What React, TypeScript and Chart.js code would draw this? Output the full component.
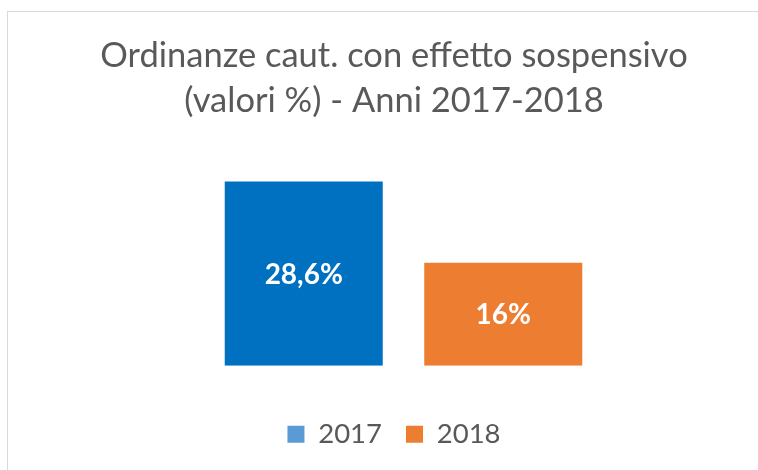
import React, { useEffect, useRef } from "react";
import { Chart, registerables } from "chart.js";

Chart.register(...registerables);

const categories = [""];
const seriesLabels = ["2017", "2018"];
const series2017 = [28.6];
const series2018 = [16];
const barColors = ["#0070C0", "#ED7D31"];
const legendColors = ["#5B9BD5", "#ED7D31"];
const titleLines = ["Ordinanze caut. con effetto sospensivo", "(valori %) - Anni 2017-2018"];

const FONT = "Lato, 'Open Sans', sans-serif";

const valueLabels = {
  id: "valueLabels",
  afterDatasetsDraw(chart: any) {
    const ctx = chart.ctx;
    ctx.save();
    ctx.fillStyle = "#FFFFFF";
    ctx.font = `bold 28px ${FONT}`;
    ctx.textAlign = "center";
    ctx.textBaseline = "middle";
    chart.data.datasets.forEach((ds: any, di: number) => {
      const meta = chart.getDatasetMeta(di);
      meta.data.forEach((el: any, i: number) => {
        const v = ds.data[i];
        const txt = String(v).replace(".", ",") + "%";
        ctx.fillText(txt, el.x, (el.y + el.base) / 2 + 1);
      });
    });
    ctx.restore();
  },
};

export default function App() {
  const ref = useRef<HTMLCanvasElement | null>(null);
  useEffect(() => {
    if (!ref.current) return;
    const chart = new Chart(ref.current, {
      type: "bar",
      data: {
        labels: categories,
        datasets: [
          { label: seriesLabels[0], data: series2017, backgroundColor: barColors[0], categoryPercentage: 0.5628, barPercentage: 0.792 },
          { label: seriesLabels[1], data: series2018, backgroundColor: barColors[1], categoryPercentage: 0.5628, barPercentage: 0.792 },
        ],
      },
      options: {
        responsive: false,
        animation: false,
        layout: { padding: { left: 30, right: 0, top: 0, bottom: 12 } },
        scales: {
          x: {
            display: true,
            grid: { display: false },
            border: { display: false },
            ticks: { display: false },
            afterFit: (s: any) => { s.height = 30.7; },
          },
          y: {
            display: true,
            min: 0,
            max: 30,
            grid: { display: false },
            border: { display: false },
            ticks: { display: false },
            afterFit: (s: any) => { s.width = 19; },
          },
        },
        plugins: {
          tooltip: { enabled: false },
          title: {
            display: true,
            text: titleLines,
            color: "#595959",
            font: { family: FONT, size: 34.5, weight: "normal", lineHeight: 45 / 34.5 },
            padding: { top: 33, bottom: 49.5 },
          },
          legend: {
            display: true,
            position: "bottom",
            labels: {
              boxWidth: 17,
              boxHeight: 17,
              padding: 24,
              color: "#595959",
              font: { family: FONT, size: 27.5 },
              generateLabels: (c: any) =>
                c.data.datasets.map((ds: any, i: number) => ({
                  text: ds.label,
                  fillStyle: legendColors[i],
                  strokeStyle: legendColors[i],
                  lineWidth: 0,
                  fontColor: "#595959",
                  datasetIndex: i,
                  hidden: false,
                })),
            },
          },
        },
      },
      plugins: [valueLabels],
    });
    return () => chart.destroy();
  }, []);
  return (
    <div style={{ position: "fixed", left: 0, top: 0, width: 758, height: 470, background: "#fff" }}>
      <div style={{ position: "absolute", left: 7, top: 11, width: 760, height: 470, borderTop: "1px solid #d9d9d9", borderLeft: "1px solid #d9d9d9" }} />
      <canvas ref={ref} width={758} height={470} style={{ position: "absolute", left: 0, top: 0, display: "block" }} />
    </div>
  );
}
